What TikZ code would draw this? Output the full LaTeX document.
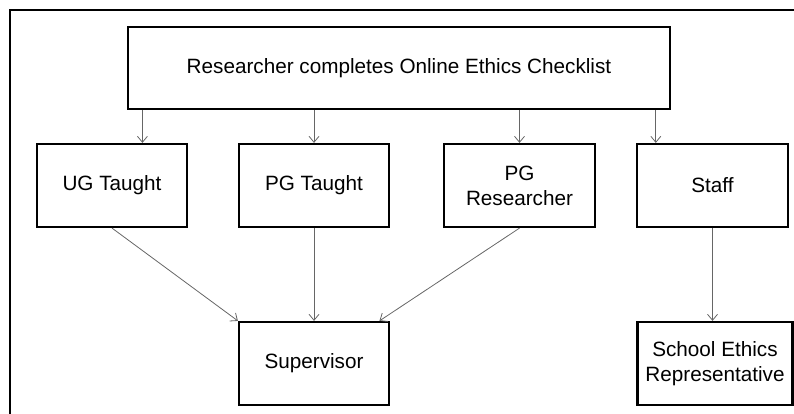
\documentclass[tikz,border=0pt]{standalone}
\usepackage{fontspec}
\setmainfont{Liberation Sans}
\usetikzlibrary{arrows.meta,calc}

\begin{document}
\begin{tikzpicture}[x=1pt,y=-1pt,
	box/.style={draw,line width=2.2pt,align=center,inner sep=0pt,
		minimum width=150,minimum height=83,font=\fontsize{20.7}{25}\selectfont},
	arr/.style={draw=black!60,line width=0.8pt,-{Straight Barb[length=6pt,width=10pt]}}]

		\useasboundingbox (0,0) rectangle (794,414);
		\draw [line width=2.2pt] (10,420) -- (10,10) -- (800,10);

		\node [box,minimum width=542,minimum height=82] (top) at (399,68) {Researcher completes Online Ethics Checklist};

		\node [box] (ug) at (112,185.5) {UG Taught};
		\node [box] (pgt) at (314,185.5) {PG Taught};
		\node [box,minimum width=151] (pgr) at (519.5,185.5) {PG\\Researcher};
		\node [box,minimum width=151] (staff) at (712.5,185.5) {Staff};

		\node [box] (sup) at (314,363.5) {Supervisor};
		\node [box,minimum width=155] (school) at (715,363.5) {School Ethics\\Representative};

		% arrows from the checklist
		\foreach \n/\f in {ug/0.7, pgt/0.5, pgr/0.5, staff/0.13}
		{
			\coordinate (t\n) at ($ (\n.north west)!\f!(\n.north east) $);
			\draw [arr] (top.south -| t\n) -- (t\n);
		}

		\draw [arr] (ug.south) -- (sup.north west);
		\draw [arr] (pgt.south) -- (sup.north);
		\draw [arr] (pgr.south) -- ($ (sup.north west)!0.93!(sup.north east) $);
		\draw [arr] (staff.south) -- (staff.south |- school.north);

\end{tikzpicture}
\end{document}
